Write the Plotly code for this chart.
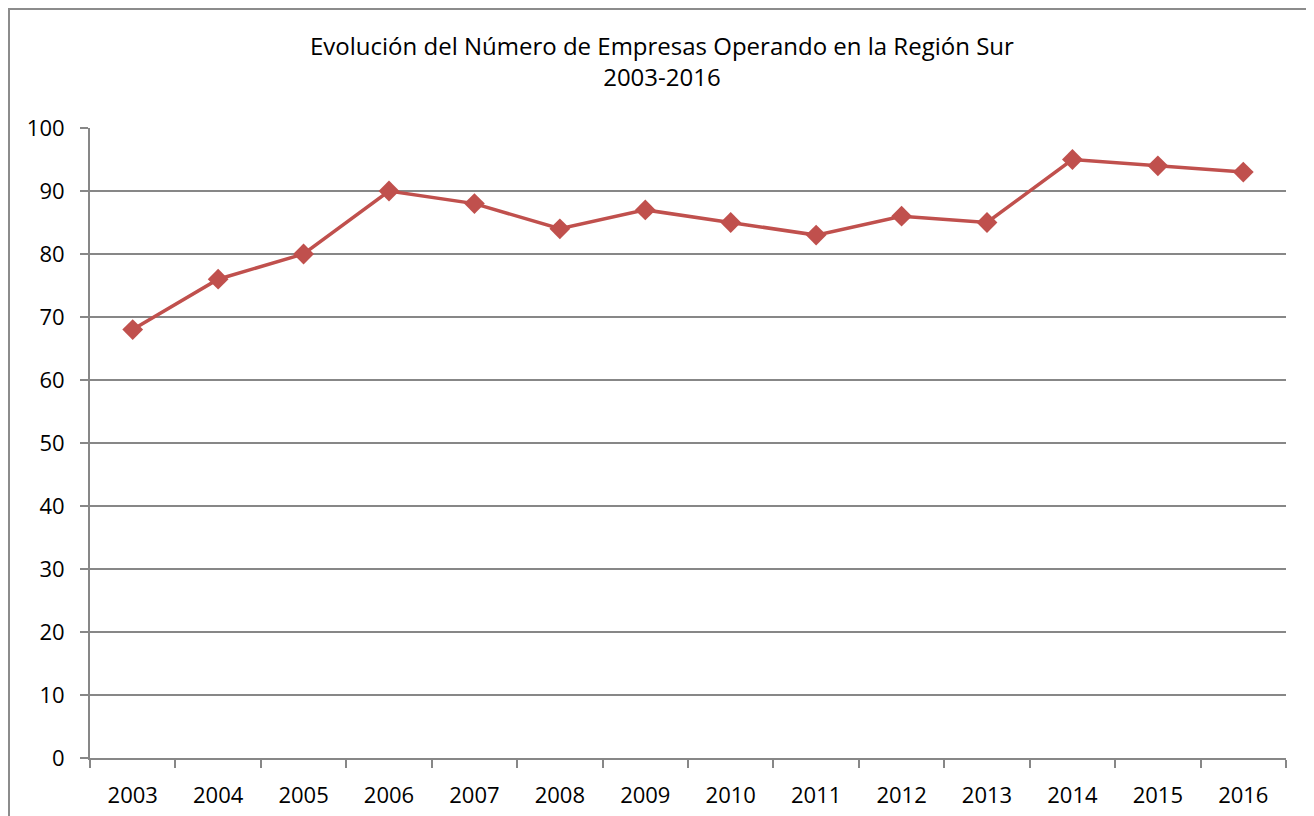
import plotly.graph_objects as go

years = ["2003", "2004", "2005", "2006", "2007", "2008", "2009", "2010",
         "2011", "2012", "2013", "2014", "2015", "2016"]
empresas = [68, 76, 80, 90, 88, 84, 87, 85, 83, 86, 85, 95, 94, 93]

OFF = 8  # page body margin
W, H = 1314 - OFF, 816 - OFF
L, R, T, B = 90 - OFF, 28, 128 - OFF, 58
pw, ph = W - L - R, H - T - B

font_family = "'Open Sans', Lato, sans-serif"
red = "#C0504D"
grid = "#878787"

fig = go.Figure()
fig.add_trace(go.Scatter(
    x=years, y=empresas, mode="lines+markers",
    line=dict(color=red, width=3.5),
    marker=dict(symbol="diamond", size=16, color=red),
    cliponaxis=False, showlegend=False,
))

def px_x(p):  # page px -> paper
    return (p - OFF - L) / pw

def px_y(p):
    return (H - B - (p - OFF)) / ph

fig.update_layout(
    width=W, height=H,
    margin=dict(l=L, r=R, t=T, b=B, autoexpand=False),
    paper_bgcolor="white", plot_bgcolor="white",
    font=dict(family=font_family, size=22, color="black"),
    xaxis=dict(
        type="category", tickson="boundaries", ticks="outside", ticklen=8,
        tickcolor=grid, tickwidth=2, showgrid=False, showline=True,
        linecolor=grid, linewidth=2, tickfont=dict(size=22),
        range=[-0.5, 13.5], ticklabelstandoff=17, automargin=False,
    ),
    yaxis=dict(
        range=[0, 100], dtick=10, ticks="outside", ticklen=8, tickcolor=grid,
        tickwidth=2, showgrid=True, gridcolor=grid, gridwidth=2,
        showline=True, linecolor=grid, linewidth=2, zeroline=False,
        tickfont=dict(size=22), ticklabelstandoff=11, automargin=False,
    ),
    annotations=[dict(
        text="Evolución del Número de Empresas Operando en la Región Sur<br>2003-2016",
        xref="paper", yref="paper", x=px_x(662), y=px_y(61),
        xanchor="center", yanchor="middle", showarrow=False,
        font=dict(size=24, family=font_family),
    )],
    shapes=[dict(
        type="rect", xref="paper", yref="paper",
        x0=px_x(OFF + 1), x1=px_x(1314 + 40), y0=px_y(816 + 40), y1=px_y(OFF + 1),
        line=dict(color="#8C8C8C", width=2), layer="below",
    )],
)

fig.write_html("out.html")
